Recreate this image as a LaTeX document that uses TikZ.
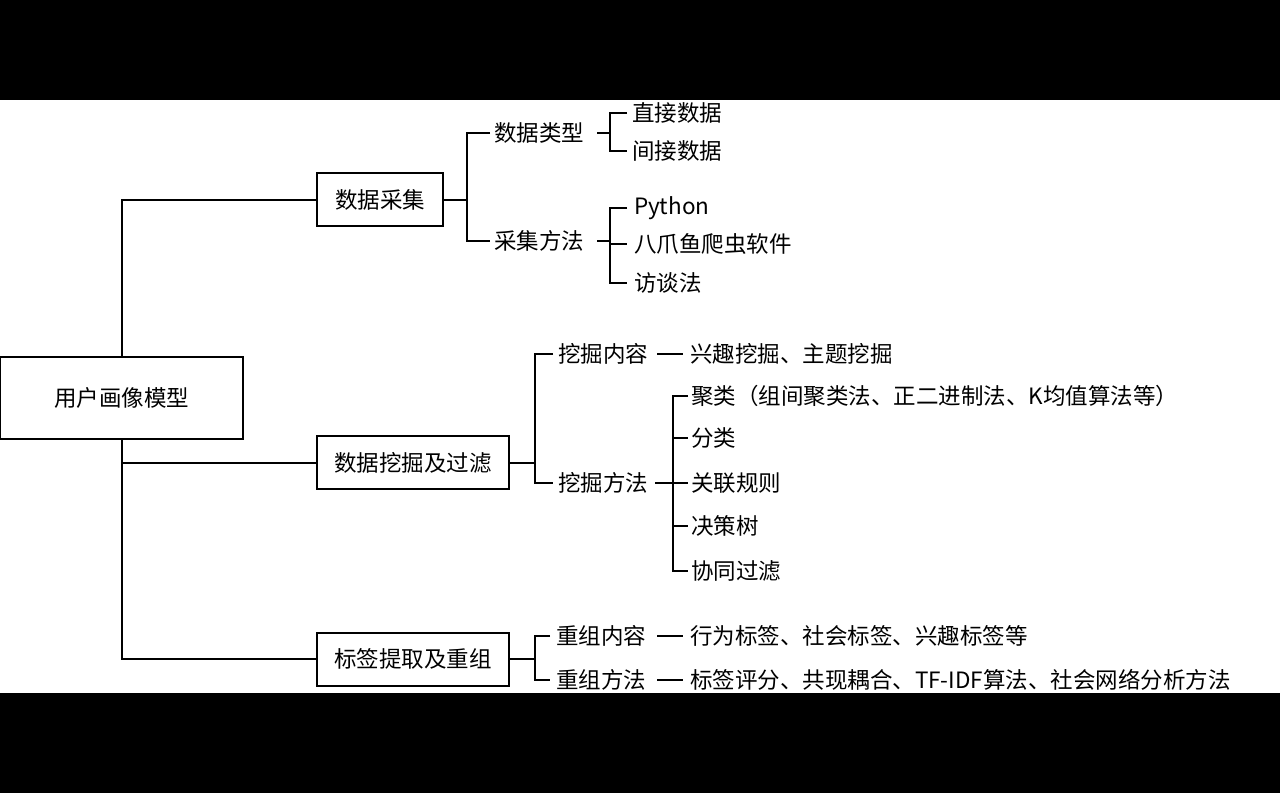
\documentclass[tikz,border=0pt]{standalone}
\usepackage{fontspec}
\newfontfamily\cjk{Noto Sans CJK SC}
\begin{document}
\begin{tikzpicture}[x=1pt,y=-1pt,line width=2pt,
  t/.style={anchor=west,inner sep=0pt,font=\cjk\fontsize{22.5}{26}\selectfont},
  bx/.style={draw,minimum height=53pt,inner sep=0pt,font=\cjk\fontsize{22.5}{26}\selectfont}]
\fill[black] (0,0) rectangle (1280,793);
\fill[white] (0,100) rectangle (1280,693);
\useasboundingbox (0,0) rectangle (1280,793);
\node[bx,minimum width=243pt,minimum height=82pt] (root) at (121.5,398) {用户画像模型};
\node[bx,minimum width=126pt] (b1) at (380,199.5) {数据采集};
\node[bx,minimum width=192pt] (b2) at (413,462.5) {数据挖掘及过滤};
\node[bx,minimum width=192pt] (b3) at (413,659) {标签提取及重组};
\draw (root.north -| 122,0) |- (b1.west);
\draw (root.south -| 122,0) |- (b2.west);
\draw (122,463) |- (b3.west);
% group 1
\node[t] (l11) at (493,133) {数据类型};
\node[t] (l12) at (493,241) {采集方法};
\draw (b1.east) -- (467,199.5);
\draw (490,133) -| (467,241) -- (490,241);
\node[t] (a1) at (631,113) {直接数据};
\node[t] (a2) at (631,151) {间接数据};
\draw (597,133) -- (610,133);
\draw (627,113) -| (610,151) -- (627,151);
\node[t] (c1) at (633,208) {Python};
\node[t] (c2) at (633,244) {八爪鱼爬虫软件};
\node[t] (c3) at (633,283) {访谈法};
\draw (597,241) -- (610,241);
\draw (627,208) -| (610,283) -- (627,283);
\draw (610,244) -- (627,244);
% group 2
\node[t] (l21) at (557,354) {挖掘内容};
\node[t] (l22) at (557,483) {挖掘方法};
\draw (b2.east) -- (535,462.5);
\draw (553,354) -| (535,483) -- (553,483);
\draw (657,354) -- (683,354);
\node[t] (d0) at (689,354) {兴趣挖掘、主题挖掘};
\draw (655,483) -- (673,483);
\draw (688,396) -| (673,571) -- (688,571);
\foreach \yy in {438,483,526} \draw (673,\yy) -- (688,\yy);
\node[t] (d1) at (690,396) {聚类（组间聚类法、正二进制法、K均值算法等）};
\node[t] (d2) at (690,438) {分类};
\node[t] (d3) at (690,483) {关联规则};
\node[t] (d4) at (690,526) {决策树};
\node[t] (d5) at (690,571) {协同过滤};
% group 3
\node[t] (l31) at (555,636) {重组内容};
\node[t] (l32) at (555,680) {重组方法};
\draw (b3.east) -- (535,659);
\draw (550,636) -| (535,680) -- (550,680);
\draw (657,636) -- (683,636);
\draw (657,680) -- (683,680);
\node[t] (e1) at (689,636) {行为标签、社会标签、兴趣标签等};
\node[t] (e2) at (689,680) {标签评分、共现耦合、TF-IDF算法、社会网络分析方法};
\end{tikzpicture}
\end{document}
